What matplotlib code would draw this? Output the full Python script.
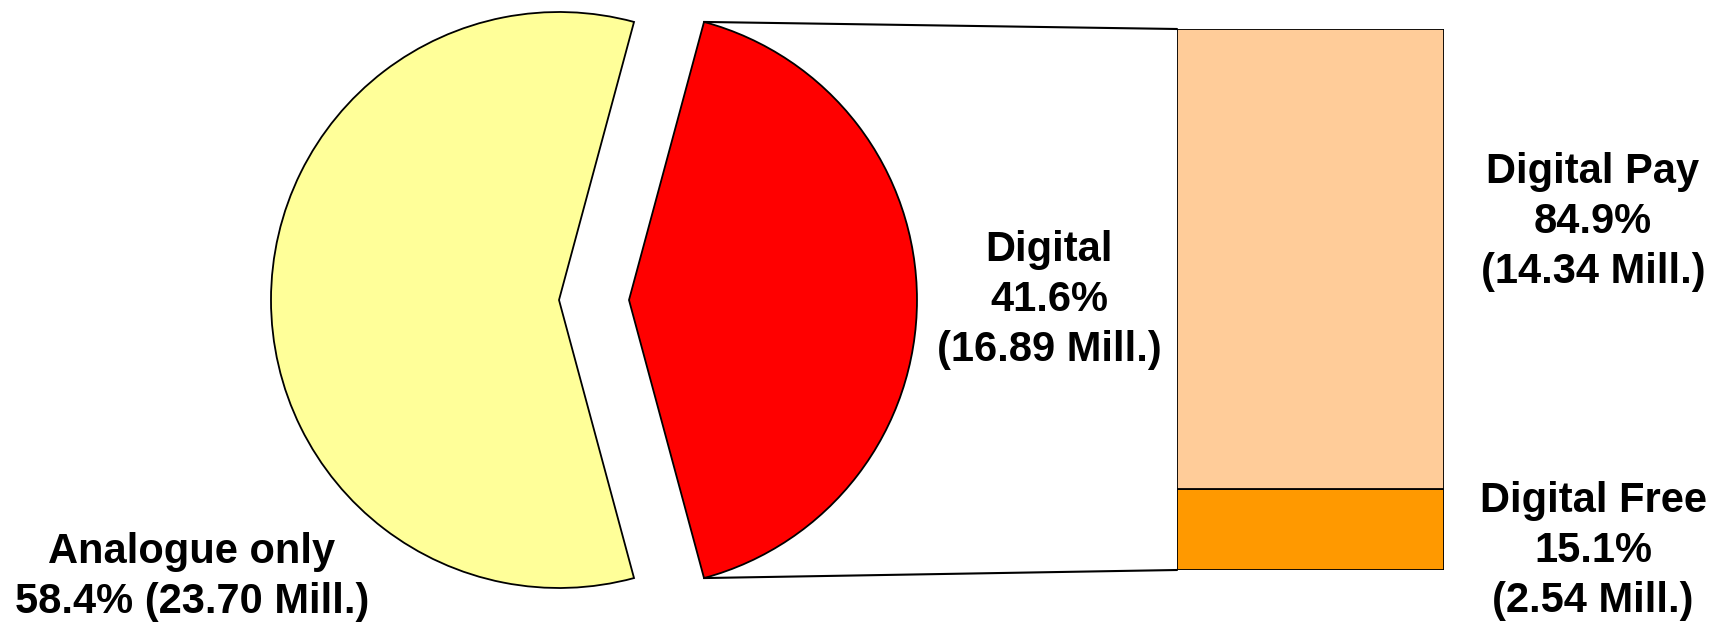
import numpy as np
import matplotlib
matplotlib.use("Agg")
import matplotlib.pyplot as plt
from matplotlib.patches import ConnectionPatch

plt.rcParams['font.family'] = ['Liberation Sans', 'DejaVu Sans']

# data (millions of households)
pie_labels = ['Analogue only', 'Digital']
pie_values = [23.70, 16.89]
pie_pct = [58.4, 41.6]
pie_colors = ['#FFFF99', '#FF0000']

bar_labels = ['Digital Free', 'Digital Pay']
bar_values = [2.54, 14.34]
bar_pct = [15.1, 84.9]
bar_colors = ['#FF9900', '#FFCC99']

W, H = 1723, 623
fig = plt.figure(figsize=(W / 100, H / 100), dpi=100)

# pie axes in pixel units
ax1 = fig.add_axes([0, 0, 1, 1])
ax1.set_xlim(0, W)
ax1.set_ylim(0, H)
ax1.set_aspect('equal')
ax1.axis('off')

cx, cy, r = 559, 323, 288
frac0 = pie_values[0] / sum(pie_values)
start = 180 * (1 - frac0)
# explode is in data units here, so scale by radius
wedges, _ = ax1.pie(pie_values, colors=pie_colors, explode=[0, 0.243 * r],
                    startangle=start, center=(cx, cy), radius=r,
                    wedgeprops=dict(edgecolor='black', linewidth=1.3))
ax1.set_xlim(0, W)
ax1.set_ylim(0, H)

# bar axes
ax2 = fig.add_axes([1177 / W, 53 / H, 267 / W, 541 / H])
bottom = 0
tot = sum(bar_values)
for v, c in zip(bar_values, bar_colors):
    ax2.bar(0, v / tot, width=1, bottom=bottom, color=c,
            edgecolor='black', linewidth=1.3)
    bottom += v / tot
ax2.set_xlim(-0.5, 0.5)
ax2.set_ylim(0, 1)
ax2.axis('off')

# connecting lines
w = wedges[1]
th1, th2 = w.theta1, w.theta2
wc = w.center
for th, yb in [(th1, 0), (th2, 1)]:
    x = wc[0] + w.r * np.cos(np.radians(th))
    y = wc[1] + w.r * np.sin(np.radians(th))
    con = ConnectionPatch(xyA=(-0.5, yb), coordsA=ax2.transData,
                          xyB=(x, y), coordsB=ax1.transData,
                          color='black', linewidth=1.5)
    fig.add_artist(con)

fs = 30
kw = dict(fontsize=fs, fontweight='bold', ha='center', va='center',
          linespacing=1.32)
ax1.text(192, 46, f"{pie_labels[0]}\n{pie_pct[0]}% ({pie_values[0]:.2f} Mill.)", **kw)
ax1.text(1049, 323, f"{pie_labels[1]}\n{pie_pct[1]}%\n({pie_values[1]:.2f} Mill.)", **kw)
ax1.text(1593, 401, f"{bar_labels[1]}\n{bar_pct[1]}%\n({bar_values[1]:.2f} Mill.)", **kw)
ax1.text(1593, 72, f"{bar_labels[0]}\n{bar_pct[0]}%\n({bar_values[0]:.2f} Mill.)", **kw)

fig.savefig('out.png', dpi=100)
